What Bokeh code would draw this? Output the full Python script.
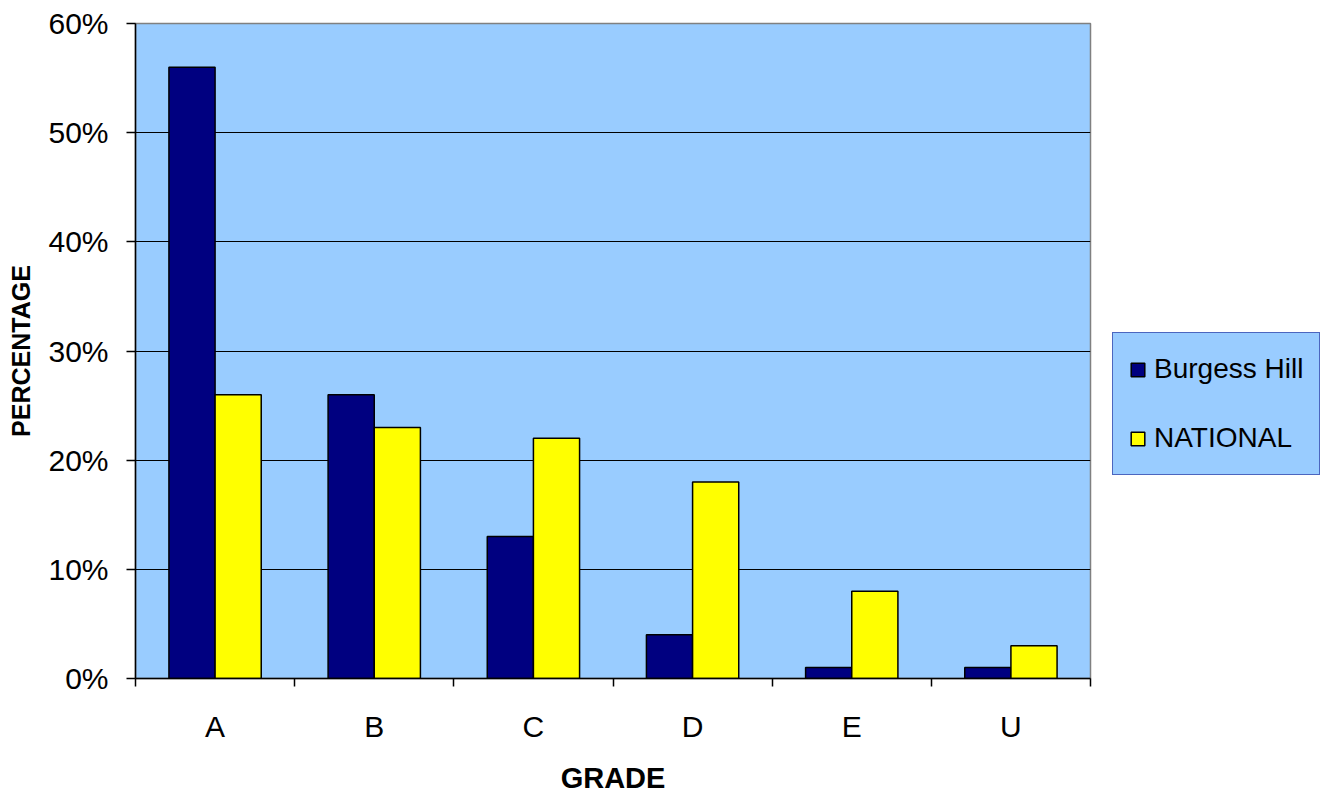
from bokeh.plotting import figure
from bokeh.models import (ColumnDataSource, FixedTicker, NumeralTickFormatter, Range1d,
                          Legend, LegendItem)
from bokeh.transform import dodge
from bokeh.embed import file_html
from bokeh.resources import INLINE

categories = ["A", "B", "C", "D", "E", "U"]
burgess_hill = [0.56, 0.26, 0.13, 0.04, 0.01, 0.01]
national = [0.26, 0.23, 0.22, 0.18, 0.08, 0.03]
y_ticks = [0.0, 0.1, 0.2, 0.3, 0.4, 0.5, 0.6]

xpos = [i + 0.5 for i in range(len(categories))]
src = ColumnDataSource(dict(x=xpos, bh=burgess_hill, nat=national))

FONT = "Liberation Sans"

p = figure(frame_width=955, frame_height=655, output_backend="svg", toolbar_location=None,
           x_range=Range1d(0, len(categories)), y_range=Range1d(0, 0.6),
           min_border_left=135, min_border_right=0, min_border_top=23,
           min_border_bottom=112)
p.background_fill_color = "#99CCFF"
p.border_fill_color = "white"
p.outline_line_color = "#808080"
p.outline_line_width = 1.5

r1 = p.vbar(x=dodge("x", -0.145, range=p.x_range), top="bh", width=0.29, source=src,
            fill_color="#000080", line_color="black", line_width=1.5)
r2 = p.vbar(x=dodge("x", 0.145, range=p.x_range), top="nat", width=0.29, source=src,
            fill_color="#FFFF00", line_color="black", line_width=1.5)

# y axis
p.yaxis.ticker = FixedTicker(ticks=y_ticks)
p.yaxis.formatter = NumeralTickFormatter(format="0%")
p.yaxis.axis_label = "PERCENTAGE"
p.yaxis.major_tick_out = 9
p.yaxis.major_tick_in = 0
p.yaxis.minor_tick_out = 0
p.yaxis.minor_tick_in = 0
p.yaxis.major_label_standoff = 18
p.yaxis.axis_label_standoff = 10
p.yaxis.axis_label_text_font_size = "25px"

# x axis
p.xaxis.ticker = FixedTicker(ticks=xpos, minor_ticks=list(range(len(categories) + 1)))
p.xaxis.major_label_overrides = {x: c for x, c in zip(xpos, categories)}
p.xaxis.axis_label = "GRADE"
p.xaxis.major_tick_out = 0
p.xaxis.major_tick_in = 0
p.xaxis.minor_tick_out = 8
p.xaxis.minor_tick_in = 0
p.xaxis.major_label_standoff = 23
p.xaxis.axis_label_standoff = 16
p.xaxis.axis_label_text_font_size = "29px"

for ax in (p.xaxis, p.yaxis):
    ax.axis_line_color = "black"
    ax.axis_line_width = 1.5
    ax.major_tick_line_color = "black"
    ax.minor_tick_line_color = "black"
    ax.major_tick_line_width = 1.5
    ax.minor_tick_line_width = 1.5
    ax.major_label_text_font = FONT
    ax.major_label_text_font_size = "30px"
    ax.major_label_text_color = "black"
    ax.axis_label_text_font = FONT
    ax.axis_label_text_font_style = "bold"
    ax.axis_label_text_color = "black"

p.xgrid.grid_line_color = None
p.ygrid.ticker = FixedTicker(ticks=y_ticks)
p.ygrid.grid_line_color = "black"
p.ygrid.grid_line_width = 1

legend = Legend(items=[LegendItem(label="Burgess Hill", renderers=[r1]),
                       LegendItem(label="NATIONAL", renderers=[r2])],
                location=(22, 203))
legend.background_fill_color = "#99CCFF"
legend.background_fill_alpha = 1
legend.border_line_color = "#000080"
legend.border_line_width = 1.5
legend.label_text_font = FONT
legend.label_text_font_size = "28px"
legend.label_text_color = "black"
legend.glyph_width = 17
legend.glyph_height = 17
legend.label_height = 40
legend.spacing = 29
legend.padding = 16
legend.label_standoff = 8
legend.margin = 0
p.add_layout(legend, "right")

open("out.html", "w").write(file_html(p, INLINE))
